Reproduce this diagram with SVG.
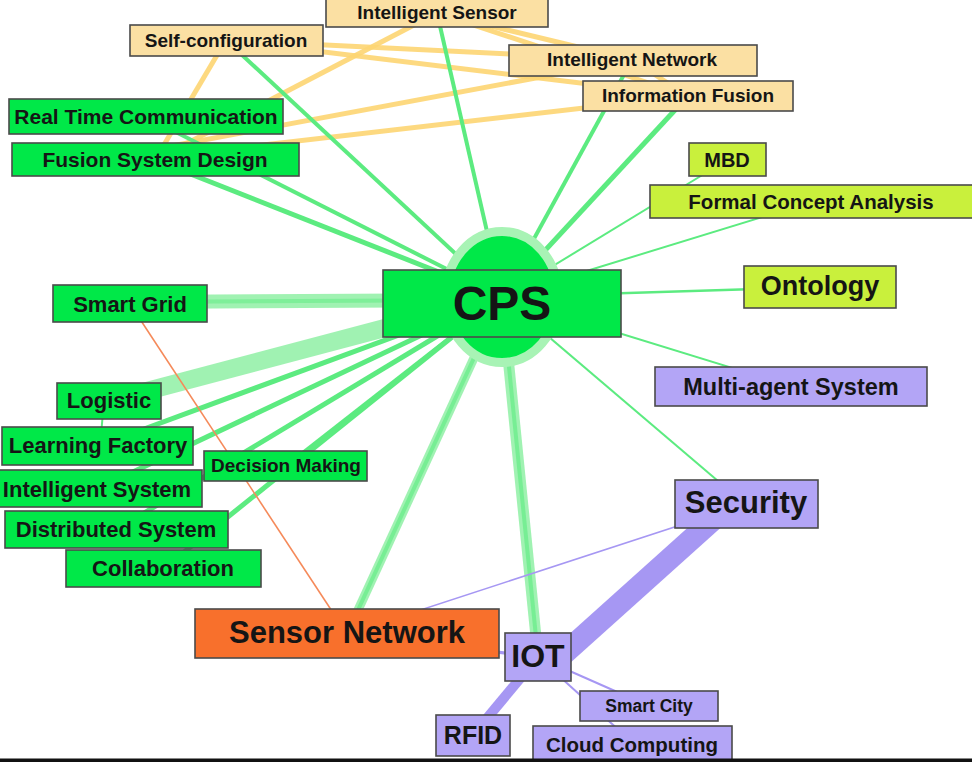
<svg xmlns="http://www.w3.org/2000/svg" width="972" height="762" viewBox="0 0 972 762">
<style>
.n rect{stroke:#4a4a4a;stroke-width:1.6}
.g rect{fill:#00e848}
.t rect{fill:#fbe0a3}
.y rect{fill:#c9f03c}
.p rect{fill:#b3a5f6}
.o rect{fill:#f8702c}
text{font-family:"Liberation Sans",Arial,sans-serif;font-weight:bold;fill:#151515;text-anchor:middle}
.eg{stroke:#5ceb80;fill:none}
.ep{stroke:#96f1aa;fill:none;opacity:0.9}
.et{stroke:#fdd572;fill:none;opacity:0.9}
.eu{stroke:#a697f3;fill:none}
</style>
<rect x="0" y="0" width="972" height="762" fill="#ffffff"/>
<g id="connectors">
  <line class="et" stroke-width="5" x1="226" y1="40" x2="155" y2="160"/>
  <line class="et" stroke-width="5" x1="437" y1="13" x2="155" y2="160"/>
  <line class="et" stroke-width="5" x1="226" y1="40" x2="632" y2="60"/>
  <line class="et" stroke-width="5" x1="226" y1="40" x2="688" y2="96"/>
  <line class="et" stroke-width="5" x1="437" y1="13" x2="632" y2="60"/>
  <line class="et" stroke-width="5" x1="437" y1="13" x2="688" y2="96"/>
  <line class="et" stroke-width="5" x1="632" y1="60" x2="688" y2="96"/>
  <line class="et" stroke-width="5" x1="150" y1="150" x2="632" y2="60"/>
  <line class="et" stroke-width="5" x1="150" y1="158" x2="688" y2="96"/>
  <line class="eg" stroke-width="4" x1="226" y1="40" x2="502" y2="297"/>
  <line class="eg" stroke-width="4" x1="437" y1="13" x2="502" y2="297"/>
  <line class="eg" stroke-width="4" x1="632" y1="60" x2="502" y2="297"/>
  <line class="eg" stroke-width="5" x1="688" y1="96" x2="502" y2="297"/>
  <line class="eg" stroke-width="2" x1="727" y1="160" x2="502" y2="297"/>
  <line class="eg" stroke-width="2" x1="811" y1="202" x2="502" y2="297"/>
  <line class="eg" stroke-width="2.5" x1="820" y1="287" x2="502" y2="297"/>
  <line class="eg" stroke-width="2" x1="791" y1="386" x2="502" y2="297"/>
  <line class="eg" stroke-width="2" x1="745" y1="504" x2="502" y2="297"/>
  <line class="eg" stroke-width="4" x1="146" y1="117" x2="502" y2="297"/>
  <line class="eg" stroke-width="5" x1="155" y1="160" x2="502" y2="297"/>
  <line class="ep" stroke-width="14" x1="130" y1="302" x2="502" y2="300"/>
  <line class="eg" stroke-width="4" x1="130" y1="302" x2="502" y2="300" opacity="0.5"/>
  <line class="ep" stroke-width="18" x1="109" y1="401" x2="502" y2="297"/>
  <line class="eg" stroke-width="5" x1="98" y1="446" x2="502" y2="297"/>
  <line class="eg" stroke-width="4" x1="286" y1="466" x2="502" y2="297"/>
  <line class="eg" stroke-width="5" x1="97" y1="489" x2="502" y2="297"/>
  <line class="eg" stroke-width="5" x1="116" y1="530" x2="502" y2="297"/>
  <line class="eg" stroke-width="5" x1="163" y1="569" x2="502" y2="297"/>
  <line class="ep" stroke-width="9" x1="347" y1="634" x2="502" y2="297"/>
  <line class="eg" stroke-width="4" x1="347" y1="634" x2="502" y2="297" opacity="0.6"/>
  <line class="ep" stroke-width="11" x1="538" y1="657" x2="502" y2="297"/>
  <line class="eg" stroke-width="4" x1="538" y1="657" x2="502" y2="297" opacity="0.6"/>
  <line class="eg" stroke-width="2" x1="104" y1="401" x2="100" y2="446"/>
  <line stroke="#f58a5a" stroke-width="1.6" x1="130" y1="304" x2="347" y2="634"/>
  <line class="eu" stroke-width="22" x1="715" y1="518" x2="548" y2="668"/>
  <line class="eu" stroke-width="1.6" stroke="#8a70f0" x1="745" y1="504" x2="347" y2="634"/>
  <line class="eu" stroke-width="10" x1="538" y1="657" x2="473" y2="735"/>
  <line class="eu" stroke-width="2" x1="538" y1="657" x2="649" y2="706"/>
  <line class="eu" stroke-width="2" x1="538" y1="657" x2="632" y2="742"/>
  <line class="eu" stroke-width="3" x1="347" y1="634" x2="538" y2="657"/>
</g>
<g id="node-intelligent-sensor" class="n t"><rect x="326" y="-3" width="222" height="30"/><text x="437" y="19" font-size="19">Intelligent Sensor</text></g>
<g id="node-self-configuration" class="n t"><rect x="130" y="25" width="193" height="31"/><text x="226" y="47" font-size="19">Self-configuration</text></g>
<g id="node-intelligent-network" class="n t"><rect x="509" y="45" width="248" height="31"/><text x="632" y="66" font-size="19">Intelligent Network</text></g>
<g id="node-information-fusion" class="n t"><rect x="583" y="81" width="210" height="30"/><text x="688" y="102" font-size="19">Information Fusion</text></g>
<g id="node-real-time-communication" class="n g"><rect x="9" y="99" width="274" height="35"/><text x="146" y="124" font-size="21">Real Time Communication</text></g>
<g id="node-fusion-system-design" class="n g"><rect x="12" y="143" width="287" height="33"/><text x="155" y="167" font-size="21">Fusion System Design</text></g>
<g id="node-mbd" class="n y"><rect x="689" y="143" width="77" height="33"/><text x="727" y="167" font-size="20">MBD</text></g>
<g id="node-formal-concept-analysis" class="n y"><rect x="650" y="185" width="325" height="33"/><text x="811" y="209" font-size="20.5">Formal Concept Analysis</text></g>
<g id="node-cps">
  <ellipse cx="502" cy="297" rx="56.5" ry="65.5" fill="#00e848" stroke="#a8f3b5" stroke-width="9"/>
  <rect x="383" y="270" width="238" height="67" fill="#00e848" stroke="#4a4a4a" stroke-width="1.6"/>
  <text x="502" y="320" font-size="48" font-weight="normal" fill="#000">CPS</text>
</g>
<g id="node-ontology" class="n y"><rect x="744" y="266" width="152" height="42"/><text x="820" y="295" font-size="27">Ontology</text></g>
<g id="node-multi-agent-system" class="n p"><rect x="655" y="367" width="272" height="39"/><text x="791" y="395" font-size="23.5">Multi-agent System</text></g>
<g id="node-smart-grid" class="n g"><rect x="53" y="285" width="154" height="37"/><text x="130" y="312" font-size="22">Smart Grid</text></g>
<g id="node-logistic" class="n g"><rect x="57" y="383" width="104" height="36"/><text x="109" y="408" font-size="22">Logistic</text></g>
<g id="node-learning-factory" class="n g"><rect x="2" y="427" width="191" height="38"/><text x="98" y="453" font-size="22">Learning Factory</text></g>
<g id="node-intelligent-system" class="n g"><rect x="-2" y="470" width="204" height="37"/><text x="97" y="497" font-size="22">Intelligent System</text></g>
<g id="node-decision-making" class="n g"><rect x="204" y="451" width="163" height="30"/><text x="286" y="472" font-size="19">Decision Making</text></g>
<g id="node-distributed-system" class="n g"><rect x="5" y="511" width="223" height="37"/><text x="116" y="537" font-size="22">Distributed System</text></g>
<g id="node-collaboration" class="n g"><rect x="66" y="550" width="195" height="37"/><text x="163" y="576" font-size="22">Collaboration</text></g>
<g id="node-security" class="n p"><rect x="675" y="480" width="143" height="48"/><text x="746" y="513" font-size="31">Security</text></g>
<g id="node-sensor-network" class="n o"><rect x="195" y="609" width="304" height="49"/><text x="347" y="643" font-size="31">Sensor Network</text></g>
<g id="node-iot" class="n p"><rect x="505" y="633" width="66" height="48"/><text x="538" y="667" font-size="32" font-weight="normal">IOT</text></g>
<g id="node-smart-city" class="n p"><rect x="580" y="691" width="138" height="30"/><text x="649" y="712" font-size="17.5">Smart City</text></g>
<g id="node-rfid" class="n p"><rect x="436" y="715" width="74" height="41"/><text x="473" y="744" font-size="25">RFID</text></g>
<g id="node-cloud-computing" class="n p"><rect x="533" y="726" width="199" height="34"/><text x="632" y="752" font-size="20.5">Cloud Computing</text></g>
<rect x="0" y="758.5" width="972" height="3.5" fill="#111"/>
</svg>
